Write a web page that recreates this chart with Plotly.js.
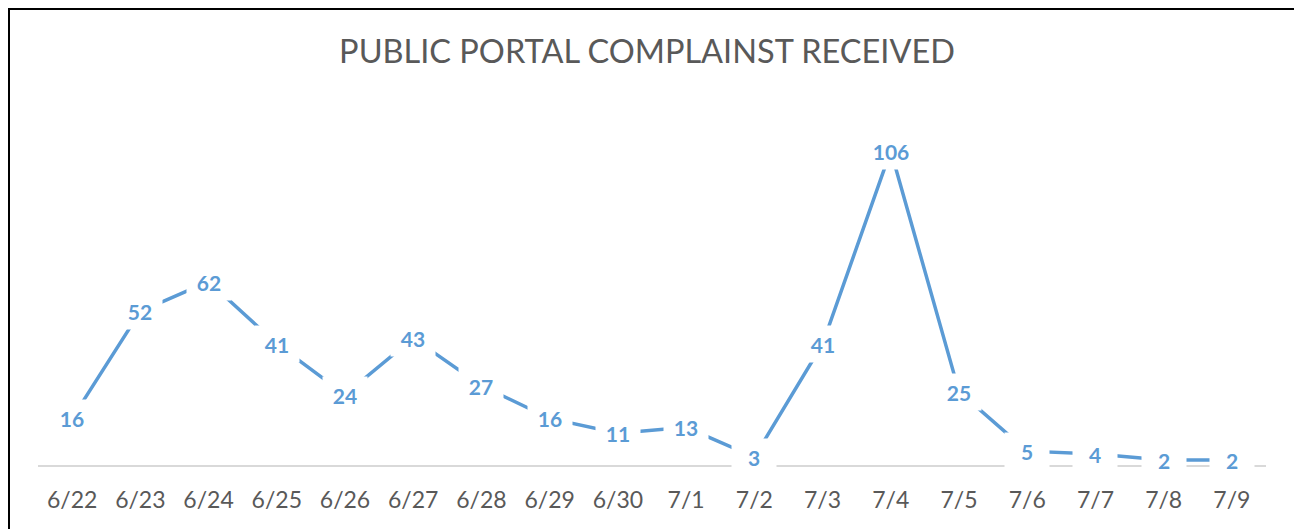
<!DOCTYPE html>
<html>
<head>
<meta charset="utf-8">
<script src="https://cdn.plot.ly/plotly-3.0.1.min.js"></script>
<style>
  html, body { margin: 0; padding: 0; background: #fff; }
  #wrap { position: relative; width: 1294px; height: 529px; overflow: hidden; }
  #chart { position: absolute; left: 0; top: 0; width: 1294px; height: 529px; }
  #frame { position: absolute; left: 8px; top: 8px; right: -10px; bottom: -10px;
           border-left: 2.5px solid #000; border-top: 2.5px solid #000; pointer-events: none; }
</style>
</head>
<body>
<div id="wrap">
  <div id="chart"></div>
  <div id="frame"></div>
</div>
<script>
const dates = ["6/22","6/23","6/24","6/25","6/26","6/27","6/28","6/29","6/30","7/1","7/2","7/3","7/4","7/5","7/6","7/7","7/8","7/9"];
const complaints = [16,52,62,41,24,43,27,16,11,13,3,41,106,25,5,4,2,2];
const chartTitle = "PUBLIC PORTAL COMPLAINST RECEIVED";

const lineColor = "#5B9BD5";
const textGrey = "#595959";
const fontFam = "Lato, 'Open Sans', sans-serif";

const trace = {
  x: dates,
  y: complaints,
  type: "scatter",
  mode: "lines",
  line: { color: lineColor, width: 3.5 },
  hoverinfo: "skip"
};

const annotations = dates.map((d, i) => ({
  x: d, y: complaints[i], xref: "x", yref: "y",
  text: String(complaints[i]),
  showarrow: false,
  bgcolor: "#ffffff",
  width: 36,
  height: 28,
  borderpad: 4,
  font: { family: fontFam, size: 21, color: lineColor, weight: "bold" }
}));

const layout = {
  width: 1294, height: 529,
  margin: { l: 38, r: 28, t: 109, b: 63 },
  paper_bgcolor: "#ffffff",
  plot_bgcolor: "#ffffff",
  showlegend: false,
  title: {
    text: chartTitle,
    x: 0.5, xanchor: "center",
    y: 1 - 52 / 529, yanchor: "middle", yref: "container",
    font: { family: fontFam, size: 32.5, color: textGrey, weight: 400 }
  },
  xaxis: {
    type: "category",
    range: [-0.5, dates.length - 0.5],
    showgrid: false,
    zeroline: false,
    showline: false,
    ticks: "",
    ticklabelstandoff: 18,
    tickfont: { family: fontFam, size: 23, color: textGrey },
    fixedrange: true
  },
  yaxis: {
    range: [0, 120],
    showgrid: false,
    showticklabels: false,
    zeroline: true,
    zerolinecolor: "#D9D9D9",
    zerolinewidth: 1.5,
    showline: false,
    ticks: "",
    fixedrange: true
  },
  annotations: annotations
};

Plotly.newPlot("chart", [trace], layout, { displayModeBar: false, staticPlot: true });
</script>
</body>
</html>
